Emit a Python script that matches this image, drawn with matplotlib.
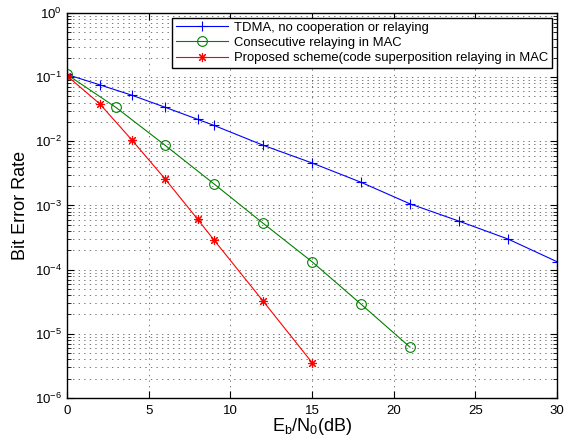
import matplotlib
matplotlib.use("Agg")
import matplotlib.pyplot as plt
from matplotlib.ticker import FixedLocator, NullFormatter, LogFormatterMathtext

plt.rcParams['font.family'] = ['Liberation Sans', 'DejaVu Sans']
plt.rcParams['mathtext.fontset'] = 'custom'
plt.rcParams['mathtext.rm'] = 'Liberation Sans'
plt.rcParams['mathtext.it'] = 'Liberation Sans'

# Data
x_tdma = [0, 2, 4, 6, 8, 9, 12, 15, 18, 21, 24, 27, 30]
ber_tdma = [0.11, 0.076, 0.052, 0.034, 0.022, 0.0177, 0.0087, 0.0046, 0.0023,
            0.00106, 0.00057, 0.0003, 0.000133]
x_cons = [0, 3, 6, 9, 12, 15, 18, 21]
ber_cons = [0.11, 0.0337, 0.0087, 0.00217, 0.00053, 0.000133, 2.9e-5, 6.2e-6]
x_prop = [0, 2, 4, 6, 8, 9, 12, 15]
ber_prop = [0.105, 0.0385, 0.0103, 0.0026, 0.00061, 0.00029, 3.25e-5, 3.57e-6]

labels = ["TDMA, no cooperation or relaying",
          "Consecutive relaying in MAC",
          "Proposed scheme(code superposition relaying in MAC"]
x_ticks = [0, 5, 10, 15, 20, 25, 30]
y_decades = [-6, -5, -4, -3, -2, -1, 0]

fig = plt.figure(figsize=(5.71, 4.40), dpi=100)
ax = fig.add_axes([0.1173, 0.0955, 0.8582, 0.875])

ax.semilogy(x_tdma, ber_tdma, color='#0000ff', lw=0.8, marker='+', ms=7, mew=0.8, label=labels[0])
ax.semilogy(x_cons, ber_cons, color='#008000', lw=0.8, marker='o', ms=7, mfc='none', mew=0.8, label=labels[1])
ax.semilogy(x_prop, ber_prop, color='#ff0000', lw=0.8, marker=(8, 2, 0), ms=6.5, mew=0.8, label=labels[2])

ax.set_xlim(0, 30)
ax.set_ylim(1e-6, 1e0)
major_y = [10.0 ** d for d in y_decades]
minor_y = [m * 10.0 ** d for d in y_decades[:-1] for m in range(2, 10)]
ax.xaxis.set_major_locator(FixedLocator(x_ticks))
ax.yaxis.set_major_locator(FixedLocator(major_y))
ax.yaxis.set_major_formatter(LogFormatterMathtext())
ax.yaxis.set_minor_locator(FixedLocator(minor_y))
ax.yaxis.set_minor_formatter(NullFormatter())

dot = (0, (2, 6))
ax.grid(True, which='major', axis='both', color='#444444', lw=0.5, linestyle=dot)
ax.grid(True, which='minor', axis='y', color='#444444', lw=0.5, linestyle=dot)

ax.tick_params(which='both', direction='in', top=True, right=True, labelsize=9.5, colors='black')
ax.tick_params(which='major', length=5, width=0.8)
ax.tick_params(which='minor', length=3, width=0.6)
ax.tick_params(axis='x', which='major', pad=5)
for s in ax.spines.values():
    s.set_linewidth(1.0)
    s.set_color('black')

ax.set_xlabel(r'E$_\mathrm{b}$/N$_\mathrm{0}$(dB)', fontsize=13, labelpad=-1)
ax.set_ylabel('Bit Error Rate', fontsize=13, labelpad=4)

leg = ax.legend(loc='upper right', fontsize=9.4, frameon=True, fancybox=False,
                edgecolor='black', framealpha=1, borderaxespad=0.35,
                handlelength=4.0, labelspacing=0.25, borderpad=0.3, handletextpad=0.45)
leg.get_frame().set_linewidth(1.0)

fig.savefig('out.png', dpi=100)
